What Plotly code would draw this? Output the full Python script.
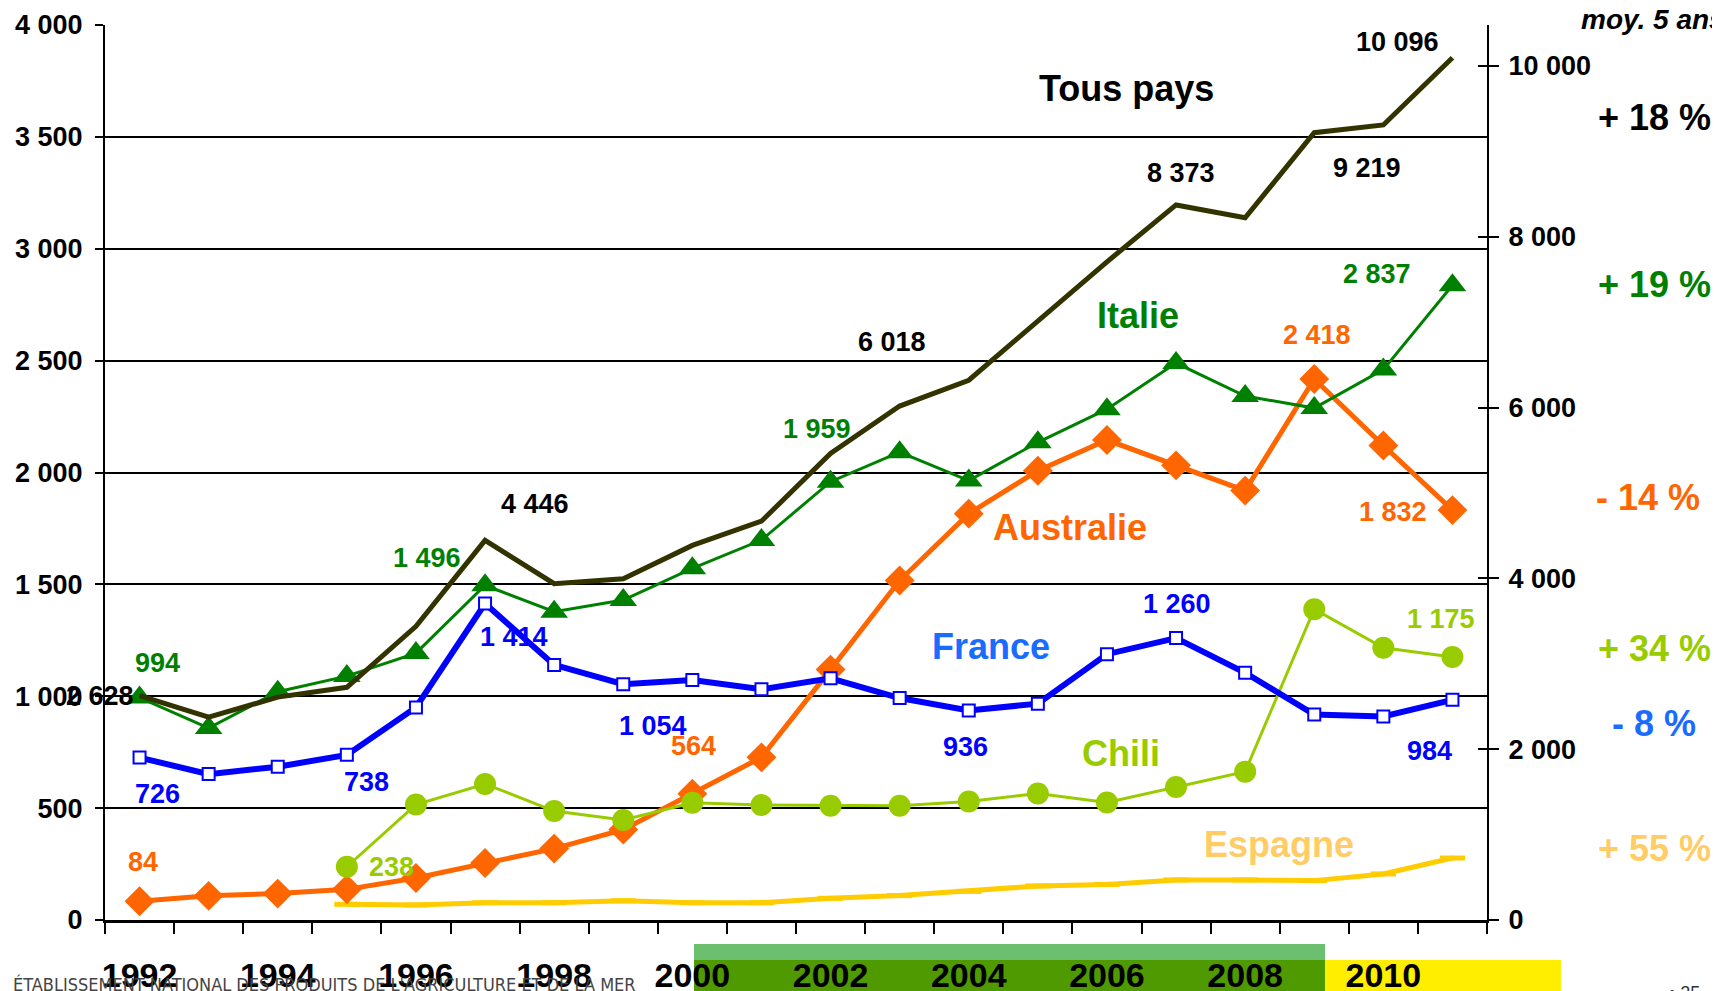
import plotly.graph_objects as go

# ---------------- data ----------------
years = [str(y) for y in range(1992, 2012)]
year_ticktext = [y if int(y) % 2 == 0 else "" for y in years]

tous_pays = [2628, 2374, 2610, 2725, 3439, 4446, 3938, 3996, 4386, 4670,
             5462, 6018, 6320, 7017, 7707, 8373, 8222, 9219, 9310, 10096]
italie = [994, 858, 1020, 1090, 1193, 1496, 1378, 1430, 1572, 1698,
          1959, 2091, 1964, 2135, 2283, 2489, 2342, 2288, 2460, 2837]
france = [726, 652, 685, 738, 950, 1414, 1140, 1054, 1073, 1031,
          1080, 992, 936, 967, 1188, 1260, 1105, 918, 910, 984]
australie = [84, 108, 118, 137, 188, 255, 319, 404, 564, 727,
             1119, 1517, 1816, 2008, 2145, 2032, 1919, 2418, 2121, 1832]
chili = [None, None, None, 238, 516, 608, 487, 447, 524, 514,
         511, 511, 530, 565, 525, 594, 663, 1389, 1217, 1175]
espagne = [None, None, None, 70, 67, 77, 77, 86, 77, 77,
           97, 109, 128, 152, 159, 179, 179, 176, 206, 277]

left_ticks = [0, 500, 1000, 1500, 2000, 2500, 3000, 3500, 4000]
right_ticks = [0, 2000, 4000, 6000, 8000, 10000]

# labelled points: (index, dx, dy)
tous_labels = [(0, -40, 0), (5, 50, 36), (11, -8, 64), (15, 5, 32), (17, 53, -35), (19, -55, 16)]
italie_labels = [(0, 18, 35), (5, -58, 27), (10, -14, 53), (19, -75, 11)]
france_labels = [(0, 18, -36), (3, 20, -27), (5, 29, -33), (7, 30, -42), (12, -3, -36), (15, 1, 34), (19, -23, -51)]
austr_labels = [(0, 3, 39), (8, 1, 48), (17, 3, 44), (19, -59, -2)]
chili_labels = [(3, 45, 0), (19, -11, 38)]

changes = ["+ 18 %", "+ 19 %", "- 14 %", "+ 34 %", "- 8 %", "+ 55 %"]

C_TOUS = "#333300"
C_ITA = "#008000"
C_FRA = "#0000FF"
C_FRA_TXT = "#1A6CFF"
C_AUS = "#FF6600"
C_CHI = "#99CC00"
C_ESP = "#FFCC00"
C_ESP_TXT = "#FFCC66"

FONT = "Liberation Sans, Arial, sans-serif"


def fmt(v):
    return f"{v:,}".replace(",", " ")


fig = go.Figure()

fig.add_trace(go.Scatter(x=years, y=espagne, mode="lines+markers", yaxis="y",
                         line=dict(color=C_ESP, width=5),
                         marker=dict(symbol="line-ew", size=18, line=dict(color=C_ESP, width=5)),
                         connectgaps=False, showlegend=False))
fig.add_trace(go.Scatter(x=years, y=australie, mode="lines+markers",
                         line=dict(color=C_AUS, width=5),
                         marker=dict(symbol="diamond", size=23, color=C_AUS),
                         showlegend=False))
fig.add_trace(go.Scatter(x=years, y=chili, mode="lines+markers",
                         line=dict(color=C_CHI, width=3),
                         marker=dict(symbol="circle", size=22, color=C_CHI),
                         showlegend=False))
fig.add_trace(go.Scatter(x=years, y=italie, mode="lines+markers",
                         line=dict(color=C_ITA, width=3),
                         marker=dict(symbol="triangle-up", size=24, color=C_ITA),
                         showlegend=False))
fig.add_trace(go.Scatter(x=years, y=france, mode="lines+markers",
                         line=dict(color=C_FRA, width=6),
                         marker=dict(symbol="square", size=12, color="white",
                                     line=dict(color=C_FRA, width=2)),
                         showlegend=False))
fig.add_trace(go.Scatter(x=years, y=tous_pays, mode="lines", yaxis="y2",
                         line=dict(color=C_TOUS, width=5),
                         showlegend=False))

annotations = []


def add_labels(series, labels, color, yref):
    for i, dx, dy in labels:
        annotations.append(dict(x=i, y=series[i], xref="x", yref=yref,
                                text=fmt(series[i]), showarrow=False,
                                xanchor="center", yanchor="middle",
                                xshift=dx, yshift=dy,
                                font=dict(family=FONT, size=27, color=color, weight="bold")))


add_labels(tous_pays, tous_labels, "black", "y2")
add_labels(italie, italie_labels, C_ITA, "y")
add_labels(france, france_labels, C_FRA, "y")
add_labels(australie, austr_labels, C_AUS, "y")
add_labels(chili, chili_labels, C_CHI, "y")

# series names
names = [("Tous pays", 0.7395, 0.9296, "black"),
         ("Italie", 0.7475, 0.6749, C_ITA),
         ("Australie", 0.6983, 0.4380, C_AUS),
         ("France", 0.6411, 0.3061, C_FRA_TXT),
         ("Chili", 0.7352, 0.1855, C_CHI),
         ("Espagne", 0.8495, 0.0849, C_ESP_TXT)]
for t, x, y, c in names:
    annotations.append(dict(x=x, y=y, xref="paper", yref="paper", text=t, showarrow=False,
                            xanchor="center", yanchor="middle",
                            font=dict(family=FONT, size=36, color=c, weight="bold")))

# right-side changes
ch_pos = [(1.0789, 0.8961, "black"), (1.0789, 0.7095, C_ITA), (1.0775, 0.4726, C_AUS),
          (1.0789, 0.3039, C_CHI), (1.0890, 0.2201, C_FRA_TXT), (1.0789, 0.0804, C_ESP_TXT)]
for t, (x, y, c) in zip(changes, ch_pos):
    annotations.append(dict(x=x, y=y, xref="paper", yref="paper", text=t, showarrow=False,
                            xanchor="left", yanchor="middle",
                            font=dict(family=FONT, size=36, color=c, weight="bold")))

annotations.append(dict(x=1.0667, y=1.0056, xref="paper", yref="paper", text="moy. 5 ans",
                        showarrow=False, xanchor="left", yanchor="middle",
                        font=dict(family=FONT, size=28, color="black", weight="bold", style="italic")))

annotations.append(dict(x=-0.068, y=-0.058, xref="paper", yref="paper", xanchor="left", yanchor="top",
                        text="ÉTABLISSEMENT NATIONAL DES PRODUITS DE L'AGRICULTURE ET DE LA MER",
                        showarrow=False,
                        font=dict(family="Liberation Sans Narrow, DejaVu Sans Condensed, sans-serif",
                                  size=18, color="#444444")))
annotations.append(dict(x=1.130, y=-0.068, xref="paper", yref="paper", xanchor="left", yanchor="top",
                        text="• 25", showarrow=False,
                        font=dict(family=FONT, size=18, color="#333333")))

shapes = [
    dict(type="rect", xref="paper", yref="paper", x0=0.4262, x1=0.8828, y0=-0.0447, y1=-0.0268,
         fillcolor="#6BBF6F", line=dict(width=0), layer="below"),
    dict(type="rect", xref="paper", yref="paper", x0=0.4262, x1=0.8828, y0=-0.12, y1=-0.0447,
         fillcolor="#4F9A00", line=dict(width=0), layer="below"),
    dict(type="rect", xref="paper", yref="paper", x0=0.8828, x1=1.0535, y0=-0.12, y1=-0.0447,
         fillcolor="#FFEE00", line=dict(width=0), layer="below"),
]

fig.update_layout(
    width=1712, height=983,
    margin=dict(l=97, r=233, t=17, b=71, autoexpand=False),
    paper_bgcolor="white", plot_bgcolor="white",
    showlegend=False,
    annotations=annotations,
    shapes=shapes,
    xaxis=dict(type="category", range=[-0.5, 19.5], automargin=False,
               tickmode="array", tickvals=years, ticktext=year_ticktext, tickangle=0,
               tickson="boundaries", ticks="outside", ticklen=11, tickwidth=2, tickcolor="black",
               showline=True, linecolor="black", linewidth=2.5, showgrid=False,
               ticklabelstandoff=23,
               tickfont=dict(family=FONT, size=34, color="black", weight="bold")),
    yaxis=dict(range=[0, 4000], tickmode="array", tickvals=left_ticks, automargin=False,
               ticktext=[fmt(v) for v in left_ticks],
               ticks="outside", ticklen=8, tickwidth=2, tickcolor="black",
               showline=True, linecolor="black", linewidth=2,
               showgrid=True, gridcolor="black", gridwidth=1.5, zeroline=False,
               ticklabelstandoff=7,
               tickfont=dict(family=FONT, size=27, color="black", weight="bold")),
    yaxis2=dict(range=[0, 10480], overlaying="y", side="right", anchor="x", automargin=False,
                tickmode="array", tickvals=right_ticks, ticktext=[fmt(v) for v in right_ticks],
                ticks="outside", ticklen=10, tickwidth=2, tickcolor="black",
                showline=True, linecolor="black", linewidth=2,
                showgrid=False, zeroline=False, ticklabelstandoff=4,
                tickfont=dict(family=FONT, size=27, color="black", weight="bold")),
    yaxis3=dict(range=[0, 10480], overlaying="y", side="right", anchor="x", automargin=False,
                tickmode="array", tickvals=right_ticks, showticklabels=False,
                ticks="inside", ticklen=9, tickwidth=2, tickcolor="black",
                showline=False, showgrid=False, zeroline=False),
)

# invisible trace on y3 so the inner tick marks are drawn
fig.add_trace(go.Scatter(x=[years[0]], y=[None], yaxis="y3", showlegend=False, hoverinfo="skip"))

fig.write_html("out.html")
